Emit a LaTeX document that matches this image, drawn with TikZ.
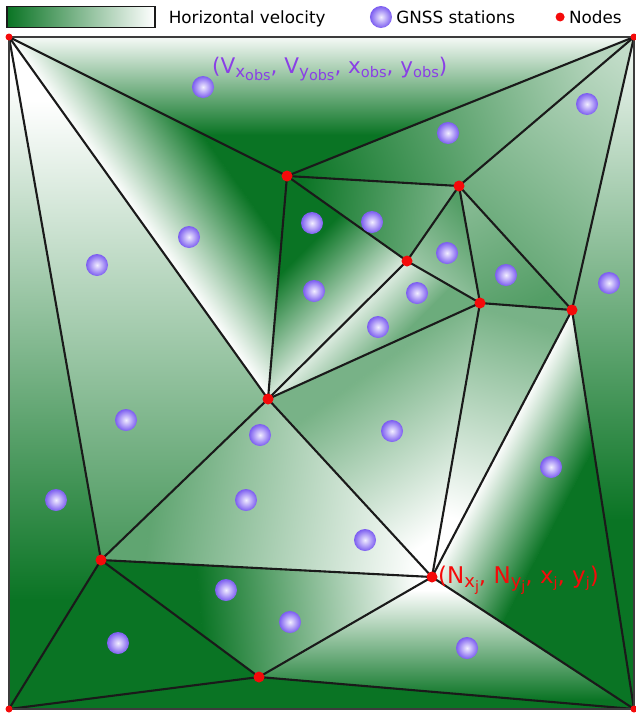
\documentclass[tikz,border=0pt]{standalone}
\usepackage{fontspec}
\setmainfont{DejaVu Sans}
\usepackage{graphicx}
\usetikzlibrary{positioning}
\definecolor{cGreen}{HTML}{0A7424}
\definecolor{cRed}{HTML}{F50A0A}
\definecolor{cPurple}{HTML}{8A3FE6}
\definecolor{cBallIn}{HTML}{F2EEFF}
\definecolor{cBallOut}{HTML}{7B5CF0}
\definecolor{cInk}{HTML}{1A1A1A}
\tikzset{
  mesh/.style={draw=cInk,line width=2.1pt,line cap=round},
  frame/.style={draw=cInk!85,line width=2pt},
  nd/.style={circle,fill=cRed,inner sep=0pt,minimum size=11pt},
  ndc/.style={nd,minimum size=7pt},
  gnss/.style={circle,inner sep=0pt,minimum size=22pt,inner color=cBallIn,outer color=cBallOut},
  legtxt/.style={font=\fontsize{16.8}{20}\selectfont,inner sep=0pt,text height=12.2pt,text depth=0pt},
  lbl/.style={inner sep=0pt,anchor=base west},
}
% lowered, shrunk index
\newcommand{\sbx}[2][0.78]{\raisebox{-0.2em}{\scalebox{#1}{#2}}}
% one mesh cell: path, from (x,y) colour, to (x,y) colour -- linear gradient
\newcommand{\meshcell}[7]{%
  \pgfmathsetmacro\cang{atan2(-(#6-#3),#5-#2)}%
  \pgfmathsetmacro\clen{veclen(#5-#2,#6-#3)}%
  \begin{scope}
    \clip #1;
    \begin{scope}[transform canvas={shift={(#2,#3)},rotate=\cang}]
      \fill[#4] (-900,-900) rectangle (0.5,900);
      \fill[#7] (\clen-0.5,-900) rectangle (\clen+900,900);
      \shade[left color=#4,right color=#7] (0,-900) rectangle (\clen,900);
    \end{scope}
  \end{scope}}
\begin{document}
\begin{tikzpicture}[x=1pt,y=-1pt]
  \useasboundingbox (0,0) rectangle (636,715);
  % mesh vertices (pixel grid, y down)
  \coordinate (TL) at (9,37);
  \coordinate (TR) at (634,37);
  \coordinate (BL) at (9,709);
  \coordinate (BR) at (634,709);
  \coordinate (A) at (287,176);
  \coordinate (B) at (459,186);
  \coordinate (C) at (407,261);
  \coordinate (D) at (480,303);
  \coordinate (E) at (572,310);
  \coordinate (F) at (268,399);
  \coordinate (G) at (101,560);
  \coordinate (H) at (432,577);
  \coordinate (I) at (259,677);
  % velocity field, one gradient per cell
  \meshcell{(TL) -- (TR) -- (A) -- cycle}{300}{38}{cGreen!5}{300}{135}{cGreen}
  \meshcell{(TL) -- (A) -- (F) -- cycle}{150}{235}{white}{232}{176}{cGreen}
  \meshcell{(TL) -- (F) -- (G) -- cycle}{150}{100}{white}{150}{560}{cGreen!75}
  \meshcell{(TL) -- (G) -- (BL) -- cycle}{40}{80}{white}{40}{600}{cGreen}
  \meshcell{(TR) -- (A) -- (B) -- cycle}{300}{180}{cGreen}{600}{60}{cGreen!30}
  \meshcell{(TR) -- (B) -- (E) -- cycle}{470}{250}{cGreen!65}{630}{60}{cGreen!25}
  \meshcell{(TR) -- (E) -- (BR) -- cycle}{620}{50}{cGreen!8}{620}{520}{cGreen}
  \meshcell{(A) -- (B) -- (C) -- cycle}{300}{185}{cGreen}{450}{200}{cGreen!55}
  \meshcell{(A) -- (C) -- (F) -- cycle}{340}{328}{cGreen!15}{283}{271}{cGreen}
  \meshcell{(B) -- (C) -- (D) -- cycle}{410}{262}{cGreen!40}{465}{210}{cGreen!70}
  \meshcell{(B) -- (D) -- (E) -- cycle}{480}{200}{cGreen!50}{530}{305}{cGreen!70}
  \meshcell{(C) -- (D) -- (F) -- cycle}{340}{328}{cGreen!15}{375}{363}{cGreen!60}
  \meshcell{(D) -- (E) -- (H) -- cycle}{520}{320}{cGreen!55}{460}{520}{white}
  \meshcell{(E) -- (H) -- (BR) -- cycle}{500}{445}{white}{575}{484}{cGreen}
  \meshcell{(D) -- (F) -- (H) -- cycle}{330}{400}{cGreen!55}{430}{540}{white}
  \meshcell{(F) -- (G) -- (H) -- cycle}{150}{520}{cGreen!65}{420}{560}{white}
  \meshcell{(G) -- (H) -- (I) -- cycle}{200}{610}{cGreen}{420}{590}{white}
  \meshcell{(H) -- (I) -- (BR) -- cycle}{440}{590}{white}{440}{700}{cGreen}
  \fill[cGreen] (G) -- (I) -- (BL) -- cycle;
  \fill[cGreen] (I) -- (BL) -- (BR) -- cycle;
  % triangulation
  \foreach \a/\b in {TL/A,TL/F,TL/G,TR/A,TR/B,TR/E,E/BR,A/B,A/C,A/F,B/C,B/D,B/E,C/D,
                     C/F,D/E,D/F,D/H,E/H,F/G,F/H,G/H,G/BL,G/I,H/I,H/BR,I/BL,I/BR}
    \draw[mesh] (\a) -- (\b);
  \draw[frame] (TL) rectangle (BR);
  % nodes
  \foreach \n in {A,B,C,D,E,F,G,H,I}
    \node[nd] (n\n) at (\n) {};
  \foreach \n in {TL,TR,BL,BR}
    \node[ndc] (n\n) at (\n) {};
  % GNSS stations
  \foreach \x/\y [count=\i] in {203/87,448/133,587/104,189/237,97/265,312/223,372/222,447/253,
                               506/275,314/291,417/293,378/327,609/283,126/420,260/435,392/431,
                               551/467,56/500,246/500,365/540,226/590,290/622,118/643,467/648}
    \node[gnss] (s\i) at (\x,\y) {};
  % labels
  \node[lbl,text=cPurple,font=\fontsize{21.5}{25}\selectfont] (obs) at (212,73)
    {(V\sbx{x\sbx[0.86]{obs}}, V\sbx{y\sbx[0.86]{obs}}, x\sbx[0.68]{obs}, y\sbx[0.68]{obs})};
  \node[lbl,text=cRed,font=\fontsize{23}{27}\selectfont] (nodej) at ([xshift=6pt,yshift=-6pt]H)
    {(N\sbx{x\sbx[0.8]{j}}, N\sbx{y\sbx[0.8]{j}}, x\sbx[0.62]{j}, y\sbx[0.62]{j})};
  % legend
  \node[draw=cInk,line width=1.2pt,left color=cGreen,right color=white,minimum width=148pt,
        minimum height=21pt,inner sep=0pt] (bar) at (81,17) {};
  \node[legtxt,right=13pt of bar] (lvel) {Horizontal velocity};
  \node[gnss,right=44pt of lvel] (lgnss) {};
  \node[legtxt,right=4pt of lgnss] (lsta) {GNSS stations};
  \node[nd,minimum size=9pt,right=40pt of lsta] (lnd) {};
  \node[legtxt,right=4pt of lnd] (lnodes) {Nodes};
\end{tikzpicture}
\end{document}
